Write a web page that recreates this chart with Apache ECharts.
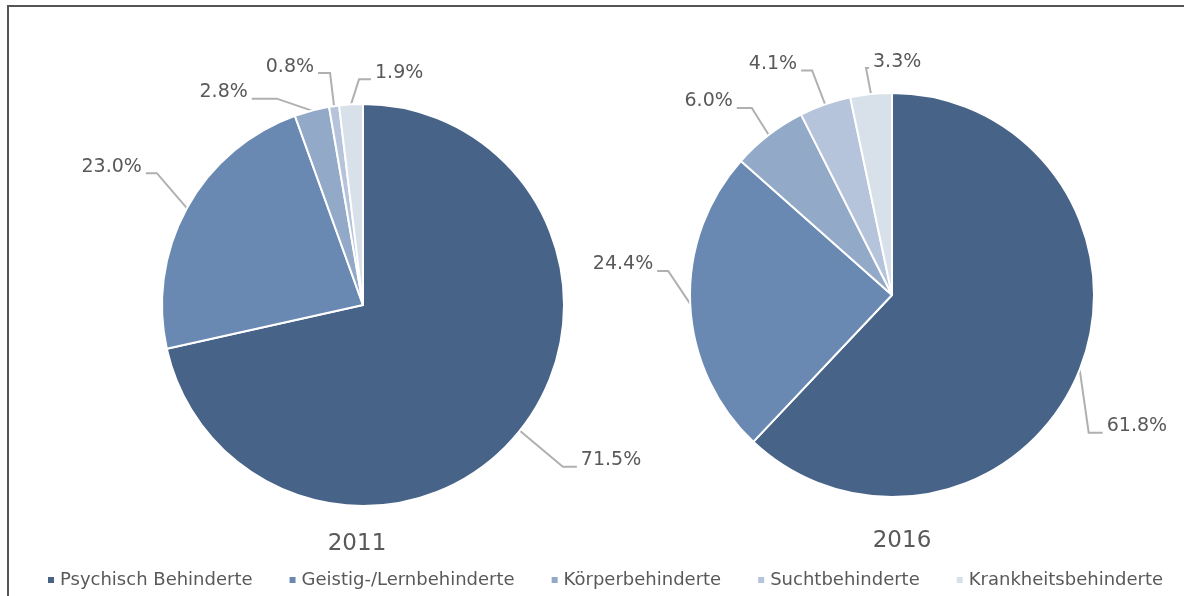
<!DOCTYPE html>
<html>
<head>
<meta charset="utf-8">
<script src="https://cdn.jsdelivr.net/npm/echarts@6/dist/echarts.min.js"></script>
<style>
  html, body { margin: 0; padding: 0; background: #fff; }
  #main { width: 1184px; height: 596px; }
</style>
</head>
<body>
<div id="main"></div>
<script>
// Kategorien und Anteile (%)
var categories = ['Psychisch Behinderte', 'Geistig-/Lernbehinderte', 'Körperbehinderte', 'Suchtbehinderte', 'Krankheitsbehinderte'];
var values2011 = [71.5, 23.0, 2.8, 0.8, 1.9];
var values2016 = [61.8, 24.4, 6.0, 4.1, 3.3];
var years = ['2011', '2016'];

var colors = ['#476388', '#6a89b2', '#93a9c8', '#b5c4da', '#d8e0e9'];
var textColor = '#595959';
var fontFamily = 'DejaVu Sans';

// Führungslinien wie im Original: [dx, dy] zum Knick, dann horizontale Länge (+ rechts / - links)
var leaders = [
    [[43, 36, 14], [-30, -35, -11], [-35, -12, -25], [-4, -33, -12], [8, -25, 12]],
    [[9, 63, 14], [-22, -33, -11], [-17, -27, -15], [-13, -34, -11], [-5, -26, 3]]
];

function toData(values) {
    return categories.map(function (name, i) {
        return { name: name, value: values[i] };
    });
}

function pieSeries(name, values, center, radius) {
    return {
        name: name,
        type: 'pie',
        center: center,
        radius: radius,
        startAngle: 90,
        clockwise: true,
        avoidLabelOverlap: false,
        data: toData(values),
        itemStyle: { borderColor: '#fff', borderWidth: 2 },
        label: {
            show: true,
            formatter: function (p) { return p.value.toFixed(1) + '%'; },
            color: textColor,
            fontFamily: fontFamily,
            fontSize: 19
        },
        labelLine: {
            show: true,
            length: 20,
            length2: 12,
            lineStyle: { color: '#b0b0b0', width: 2 }
        },
        labelLayout: function (p) {
            var l = leaders[p.seriesIndex][p.dataIndex];
            var start = p.labelLinePoints[0];
            var knee = [start[0] + l[0], start[1] + l[1]];
            var end = [knee[0] + l[2], knee[1]];
            var right = l[2] >= 0;
            return {
                x: end[0] + (right ? 4 : -4),
                y: knee[1] + 3,
                align: right ? 'left' : 'right',
                verticalAlign: 'bottom',
                labelLinePoints: [start, knee, end]
            };
        },
        emphasis: { disabled: true }
    };
}

var myChart = echarts.init(document.getElementById('main'));

var option = {
    color: colors,
    animation: false,
    title: [
        {
            text: years[0], left: 352, top: 528, textAlign: 'center',
            textStyle: { color: textColor, fontFamily: fontFamily, fontSize: 23, fontWeight: 'normal' }
        },
        {
            text: years[1], left: 897, top: 525, textAlign: 'center',
            textStyle: { color: textColor, fontFamily: fontFamily, fontSize: 23, fontWeight: 'normal' }
        }
    ],
    legend: {
        data: categories,
        left: 41,
        top: 566,
        icon: 'rect',
        itemWidth: 8,
        itemHeight: 8,
        itemGap: 35,
        textStyle: { color: textColor, fontFamily: fontFamily, fontSize: 18 }
    },
    graphic: [
        { type: 'line', shape: { x1: 7, y1: 6, x2: 1184, y2: 6 }, style: { stroke: '#555', lineWidth: 2 } },
        { type: 'line', shape: { x1: 8, y1: 5, x2: 8, y2: 596 }, style: { stroke: '#555', lineWidth: 2 } }
    ],
    series: [
        pieSeries(years[0], values2011, [363, 305], 201),
        pieSeries(years[1], values2016, [892, 295], 202)
    ]
};

myChart.setOption(option);
window.onresize = myChart.resize;
</script>
</body>
</html>
